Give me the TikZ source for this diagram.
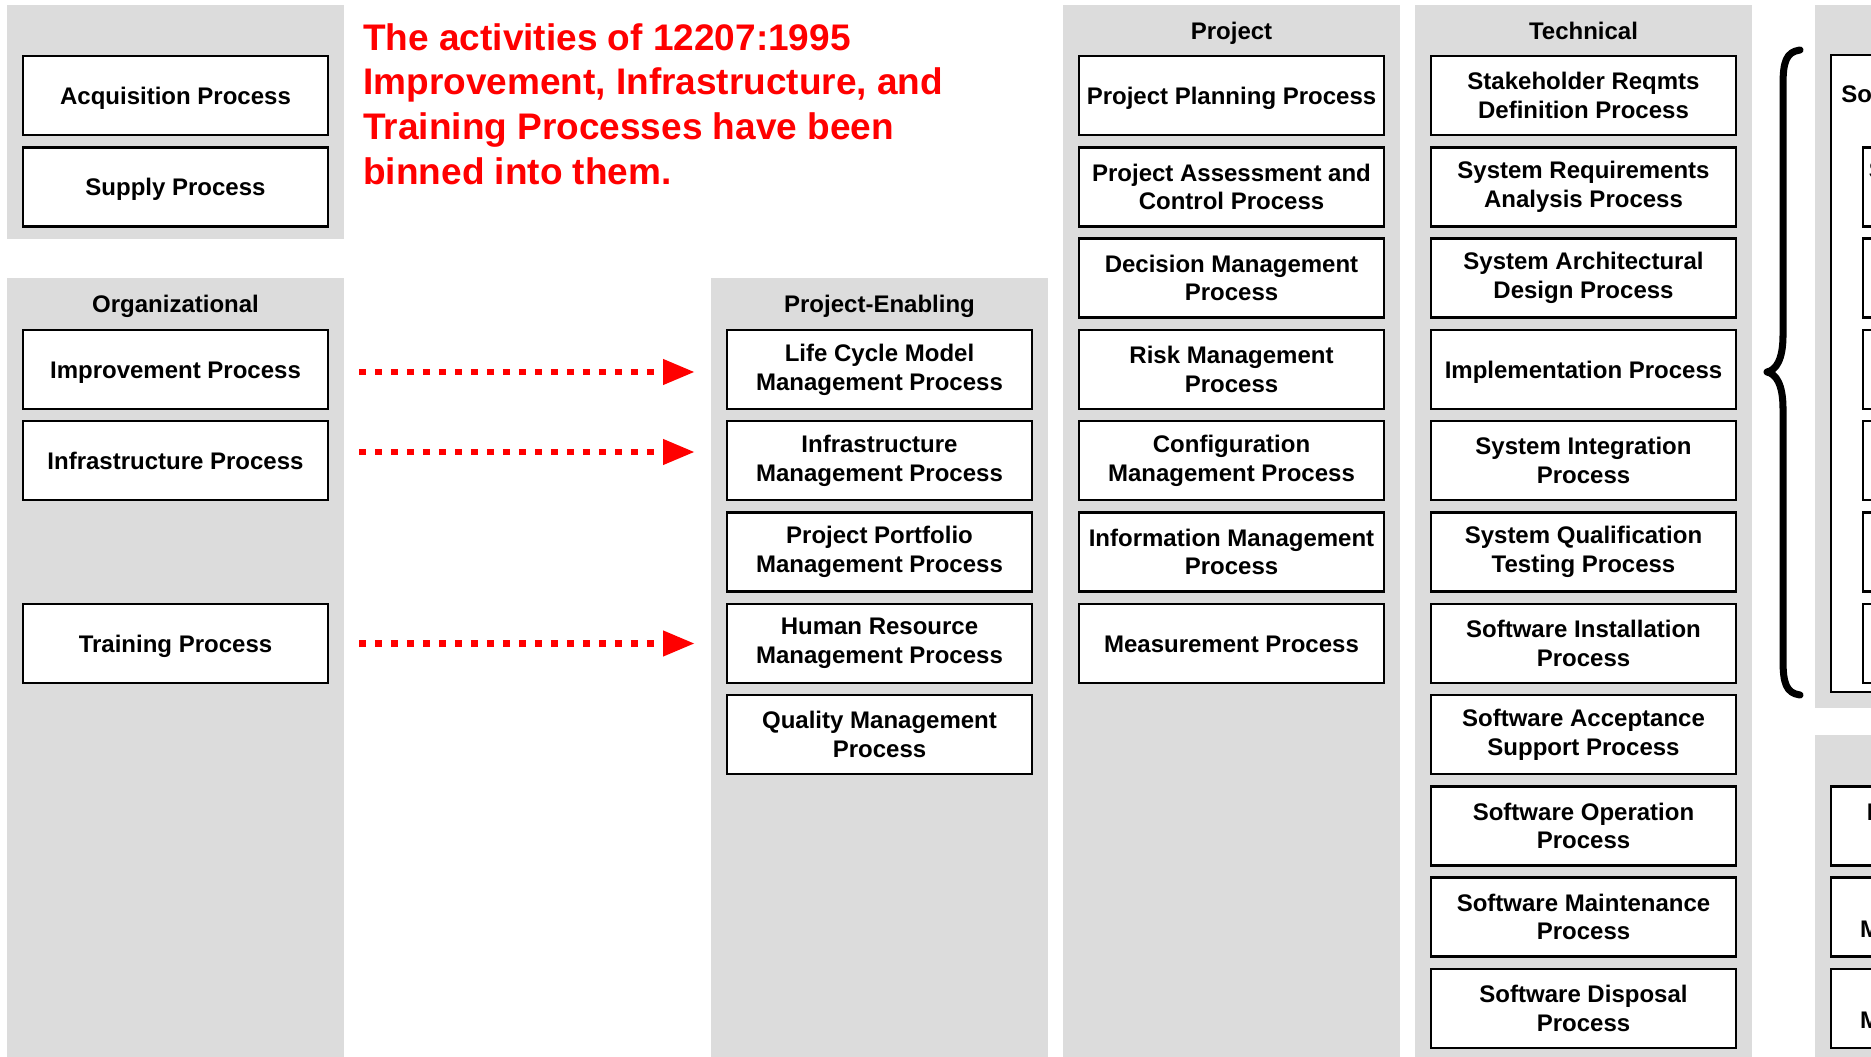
\documentclass[tikz,border=0pt]{standalone}
\usepackage{fontspec}
\setmainfont{Liberation Sans}
\usetikzlibrary{arrows.meta}
\definecolor{panelgray}{RGB}{220,220,220}
\definecolor{notered}{RGB}{255,0,0}
\begin{document}
\begin{tikzpicture}[
  panel/.style={fill=panelgray, draw=none},
  proc/.style={draw, line width=1.5pt, fill=white, minimum width=6.10cm, minimum height=1.58cm,
    inner sep=0pt, outer sep=0pt, align=center, font=\fontsize{13.66}{16.4}\selectfont\bfseries},
  oneline/.style={proc, text height=9.8pt, text depth=0pt},
  head/.style={anchor=base, inner sep=0pt, font=\fontsize{13.66}{16.4}\selectfont\bfseries},
  binned/.style={notered, line width=3.98pt, dash pattern=on 3.98pt off 5.12pt,
    -{Triangle[length=18.2pt, width=13.66pt]}}]
  \useasboundingbox (0,0) rectangle (37.42,-21.14);
  \clip (0,0) rectangle (37.42,-21.14);
  \fill[panel] (0.14,-0.10) rectangle (6.88,-4.78);
  \fill[panel] (0.14,-5.56) rectangle (6.88,-21.14);
  \fill[panel] (14.22,-5.56) rectangle (20.96,-21.14);
  \fill[panel] (21.26,-0.10) rectangle (28.00,-21.14);
  \fill[panel] (28.30,-0.10) rectangle (35.04,-21.14);
  \fill[panel] (36.30,-0.10) rectangle (43.50,-14.16);
  \fill[panel] (36.30,-14.70) rectangle (43.50,-21.14);
  \node[oneline] (acq) at (3.51,-1.91) {Acquisition Process};
  \node[oneline] (sup) at (3.51,-3.74) {Supply Process};
  \node[anchor=north west, inner sep=0pt, align=left, text=notered,
    font=\fontsize{21.05}{25.4}\selectfont\bfseries] (note) at (7.26,-0.46)
    {The activities of 12207:1995\\Improvement, Infrastructure, and\\Training Processes have been\\binned into them.};
  \node[head] (orgtitle) at (3.51,-6.26) {Organizational};
  \node[oneline] (imp) at (3.51,-7.39) {Improvement Process};
  \node[oneline] (infra) at (3.51,-9.21) {Infrastructure Process};
  \node[oneline] (train) at (3.51,-12.87) {Training Process};
  \node[head] (petitle) at (17.59,-6.26) {Project-Enabling};
  \node[proc] (lcm) at (17.59,-7.39) {Life Cycle Model\\Management Process};
  \node[proc] (im) at (17.59,-9.21) {Infrastructure\\Management Process};
  \node[proc] (ppm) at (17.59,-11.04) {Project Portfolio\\Management Process};
  \node[proc] (hrm) at (17.59,-12.87) {Human Resource\\Management Process};
  \node[proc] (qm) at (17.59,-14.69) {Quality Management\\Process};
  \draw[binned] ([shift={(0.62,-0.05)}]imp.east) -- ([shift={(-0.64,-0.05)}]lcm.west);
  \draw[binned] ([shift={(0.62,0.17)}]infra.east) -- ([shift={(-0.64,0.17)}]im.west);
  \draw[binned] ([xshift=0.62cm]train.east) -- ([xshift=-0.64cm]hrm.west);
  \node[head] (projtitle) at (24.63,-0.79) {Project};
  \node[oneline] (pp) at (24.63,-1.91) {Project Planning Process};
  \node[proc] (pac) at (24.63,-3.74) {Project Assessment and\\Control Process};
  \node[proc] (dm) at (24.63,-5.56) {Decision Management\\Process};
  \node[proc] (rm) at (24.63,-7.39) {Risk Management\\Process};
  \node[proc] (cm) at (24.63,-9.21) {Configuration\\Management Process};
  \node[proc] (infm) at (24.63,-11.04) {Information Management\\Process};
  \node[oneline] (meas) at (24.63,-12.87) {Measurement Process};
  \node[head] (techtitle) at (31.67,-0.79) {Technical};
  \node[proc] (srd) at (31.67,-1.91) {Stakeholder Reqmts\\Definition Process};
  \node[proc] (sra) at (31.67,-3.74) {System Requirements\\Analysis Process};
  \node[proc] (sad) at (31.67,-5.56) {System Architectural\\Design Process};
  \node[oneline] (impl) at (31.67,-7.39) {Implementation Process};
  \node[proc] (sint) at (31.67,-9.21) {System Integration\\Process};
  \node[proc] (sqt) at (31.67,-11.04) {System Qualification\\Testing Process};
  \node[proc] (sinst) at (31.67,-12.87) {Software Installation\\Process};
  \node[proc] (sacc) at (31.67,-14.69) {Software Acceptance\\Support Process};
  \node[proc] (sop) at (31.67,-16.52) {Software Operation\\Process};
  \node[proc] (smnt) at (31.67,-18.34) {Software Maintenance\\Process};
  \node[proc] (sdis) at (31.67,-20.17) {Software Disposal\\Process};
  \draw[line width=4pt, line cap=round, line join=round] (36.00,-1.00) .. controls (35.72,-1.04) and (35.66,-1.24) .. (35.66,-1.70)
    -- (35.66,-6.70) .. controls (35.66,-7.20) and (35.52,-7.40) .. (35.34,-7.44)
    .. controls (35.52,-7.48) and (35.66,-7.68) .. (35.66,-8.18)
    -- (35.66,-13.20) .. controls (35.66,-13.66) and (35.72,-13.86) .. (36.00,-13.90);
  \node[proc, minimum width=6.56cm, minimum height=12.74cm] (swimpl) at (39.90,-7.47) {};
  \node[anchor=base west, inner sep=0pt, font=\fontsize{13.66}{16.4}\selectfont\bfseries] (swimpltitle) at (36.82,-2.06) {Software Implementation Process};
  \node[proc, minimum width=5.60cm] (swra) at (40.06,-3.74) {Software Requirements\\Analysis Process};
  \node[proc, minimum width=5.60cm] (swad) at (40.06,-5.56) {Software Architectural\\Design Process};
  \node[proc, minimum width=5.60cm] (swdd) at (40.06,-7.39) {Software Detailed\\Design Process};
  \node[proc, minimum width=5.60cm] (swc) at (40.06,-9.21) {Software Construction\\Process};
  \node[proc, minimum width=5.60cm] (swi) at (40.06,-11.04) {Software Integration\\Process};
  \node[proc, minimum width=5.60cm] (swqt) at (40.06,-12.87) {Software Qualification\\Testing Process};
  \node[proc] (de) at (39.67,-16.52) {Domain Engineering\\Process};
  \node[proc] (ram) at (39.67,-18.34) {Reuse Asset\\Management Process};
  \node[proc] (rpm) at (39.67,-20.17) {Reuse Program\\Management Process};
\end{tikzpicture}
\end{document}
